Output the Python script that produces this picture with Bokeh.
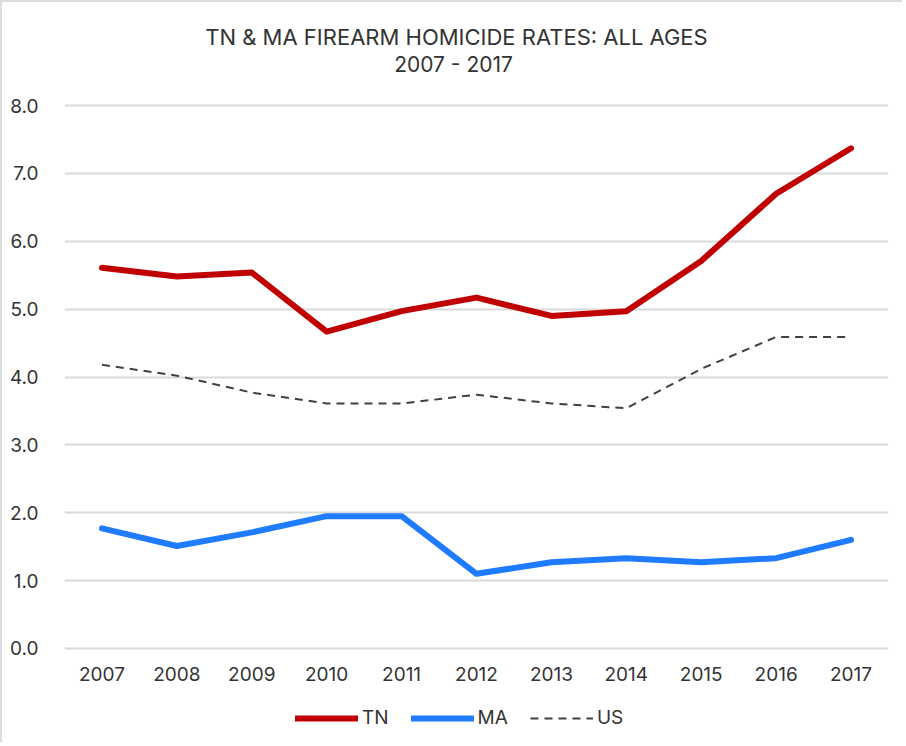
from bokeh.plotting import figure
from bokeh.layouts import column
from bokeh.models import (FactorRange, Range1d, FixedTicker, NumeralTickFormatter,
                          Legend, LegendItem, ColumnDataSource)
from bokeh.core.properties import value
from bokeh.embed import file_html
from bokeh.resources import INLINE

years = ["2007", "2008", "2009", "2010", "2011", "2012", "2013", "2014", "2015", "2016", "2017"]
tn = [5.61, 5.48, 5.54, 4.67, 4.97, 5.17, 4.90, 4.97, 5.71, 6.70, 7.37]
ma = [1.77, 1.51, 1.71, 1.95, 1.95, 1.10, 1.27, 1.33, 1.27, 1.33, 1.60]
us = [4.18, 4.02, 3.77, 3.61, 3.61, 3.74, 3.61, 3.54, 4.12, 4.59, 4.59]
y_ticks = [0, 1, 2, 3, 4, 5, 6, 7, 8]
series_names = ["TN", "MA", "US"]
title_text = "TN & MA FIREARM HOMICIDE RATES: ALL AGES"
subtitle_text = "2007 - 2017"

FONT = "Inter"
TXT = "#333333"
GRAY = "#dcdcdc"
BORDER = {"border-left": "2px solid " + GRAY}
W = 902

# ---- title strip (frame aligned with main chart frame: page x 64..888) ----
tp = figure(width=W, height=95, output_backend="svg", toolbar_location=None,
            x_range=Range1d(64, 888), y_range=Range1d(95, 0),
            x_axis_type=None, y_axis_type=None, min_border=0)
tp.grid.visible = False
tp.outline_line_color = None
tp.styles = {"border-left": "2px solid " + GRAY, "border-top": "2px solid " + GRAY}
tp.text(x=[456], y=[34], text=[title_text], text_align="center", text_baseline="middle",
        text_font=value(FONT), text_font_size="22px", text_color=TXT)
tp.text(x=[453], y=[62], text=[subtitle_text], text_align="center", text_baseline="middle",
        text_font=value(FONT), text_font_size="21px", text_color=TXT)

# ---- main chart ----
src = ColumnDataSource(dict(year=years, tn=tn, ma=ma, us=us))
p = figure(width=W, height=600, output_backend="svg", toolbar_location=None,
           x_range=FactorRange(*years, range_padding=0),
           y_range=Range1d(-0.03, 8.03),
           min_border_left=62, min_border_right=16,
           min_border_top=8, min_border_bottom=45)
p.styles = BORDER
p.outline_line_color = None
p.xgrid.grid_line_color = None
p.ygrid.grid_line_color = "#d9d9d9"
p.ygrid.grid_line_width = 2
p.yaxis.ticker = FixedTicker(ticks=y_ticks)
p.yaxis.formatter = NumeralTickFormatter(format="0.0")
for ax in (p.xaxis[0], p.yaxis[0]):
    ax.axis_line_color = None
    ax.major_tick_line_color = None
    ax.minor_tick_line_color = None
    ax.major_label_text_font = FONT
    ax.major_label_text_font_size = "19px"
    ax.major_label_text_color = TXT
p.yaxis.major_label_standoff = 20
p.xaxis.major_label_standoff = 10

TN_STYLE = dict(line_color="#C00000", line_width=6, line_join="round", line_cap="round")
MA_STYLE = dict(line_color="#1F7BFF", line_width=6, line_join="round", line_cap="round")
US_STYLE = dict(line_color="#404040", line_width=2, line_dash="8 6")

p.line("year", "tn", source=src, **TN_STYLE)
p.line("year", "ma", source=src, **MA_STYLE)
p.line("year", "us", source=src, **US_STYLE)

# ---- legend strip ----
lp = figure(width=W, height=47, output_backend="svg", toolbar_location=None,
            x_range=Range1d(0, 1), y_range=Range1d(0, 1),
            x_axis_type=None, y_axis_type=None, min_border=0)
lp.grid.visible = False
lp.outline_line_color = None
lp.styles = BORDER
off = [-5, -4]  # legend proxies kept outside the visible range
l1 = lp.line(x=off, y=off, **TN_STYLE)
l2 = lp.line(x=off, y=off, **MA_STYLE)
l3 = lp.line(x=off, y=off, **US_STYLE)
legend = Legend(items=[LegendItem(label=n, renderers=[r]) for n, r in zip(series_names, [l1, l2, l3])],
                orientation="horizontal", location=(231, 13),
                label_text_font=FONT, label_text_font_size="19px",
                label_text_color=TXT, glyph_width=63, glyph_height=20,
                label_standoff=4, spacing=22, border_line_color=None,
                background_fill_alpha=0, padding=0, margin=0)
lp.add_layout(legend, "center")

layout = column(tp, p, lp, spacing=0)
open("out.html", "w").write(file_html(layout, INLINE))
